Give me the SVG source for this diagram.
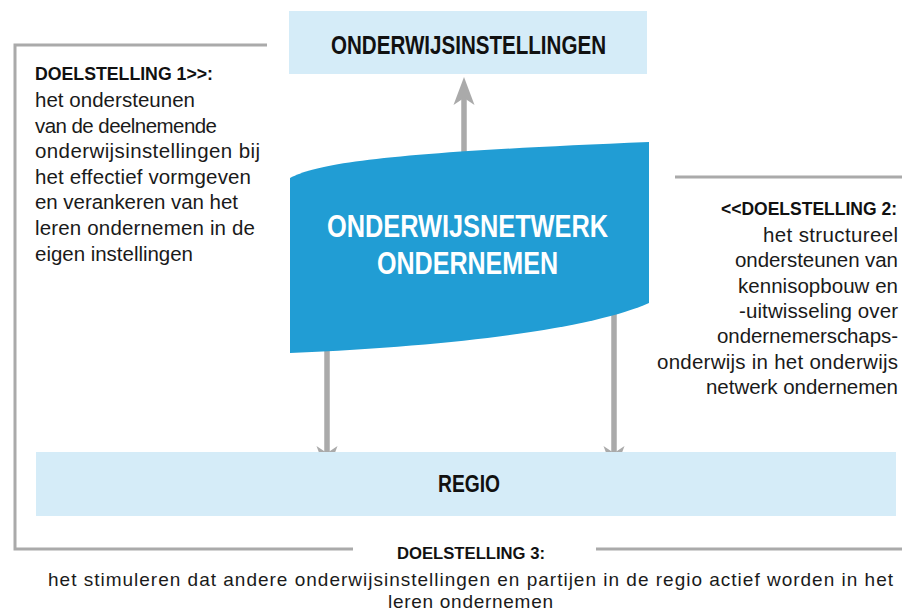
<svg xmlns="http://www.w3.org/2000/svg" width="902" height="612" viewBox="0 0 902 612">
<style>
.box{fill:#d5ecf8}
.line{fill:none;stroke:#aaaaaa;stroke-width:3}
.conn{fill:none;stroke:#aaaaaa;stroke-width:5.5}
.hd{font-family:"Liberation Sans",Arial,sans-serif;font-weight:bold;fill:#111111}
.wt{font-family:"Liberation Sans",Arial,sans-serif;font-weight:bold;fill:#ffffff}
.bd{font-family:"Liberation Sans",Arial,sans-serif;font-size:20.5px;fill:#1a1a1a}
</style>
<defs>
<marker id="ah" viewBox="-30 -12 32 24" refX="-21" refY="0" markerWidth="32" markerHeight="24" markerUnits="userSpaceOnUse" orient="auto">
<path d="M0,0 L-28,-10.5 L-21,0 L-28,10.5 Z" fill="#aaaaaa"/>
</marker>
</defs>
<rect width="902" height="612" fill="#ffffff"/>
<g id="frame">
<path class="line" d="M267,45 H15 V549 H353"/>
<path class="line" d="M596,549 H902"/>
<path class="line" d="M675,177 H902"/>
</g>
<g id="connectors">
<line class="conn" x1="464" y1="170" x2="464" y2="98" marker-end="url(#ah)"/>
<line class="conn" x1="327" y1="300" x2="327" y2="453" marker-end="url(#ah)"/>
<line class="conn" x1="614" y1="290" x2="614" y2="453" marker-end="url(#ah)"/>
</g>
<g id="onderwijsinstellingen">
<rect class="box" x="289" y="11" width="358" height="63"/>
<text class="hd" x="468.5" y="54" font-size="26" text-anchor="middle" textLength="275" lengthAdjust="spacingAndGlyphs">ONDERWIJSINSTELLINGEN</text>
</g>
<g id="onderwijsnetwerk">
<path d="M290,178 C320,162 400,152 649,142 L649,303 C600,325 480,345 290,353 Z" fill="#219dd4"/>
<text class="wt" x="467.5" y="237" font-size="32" text-anchor="middle" textLength="281" lengthAdjust="spacingAndGlyphs">ONDERWIJSNETWERK</text>
<text class="wt" x="467.5" y="274" font-size="32" text-anchor="middle" textLength="181" lengthAdjust="spacingAndGlyphs">ONDERNEMEN</text>
</g>
<g id="regio">
<rect class="box" x="36" y="452" width="860" height="64"/>
<text class="hd" x="469" y="492" font-size="24" text-anchor="middle" textLength="62" lengthAdjust="spacingAndGlyphs">REGIO</text>
</g>
<g id="doelstelling1">
<text class="hd" x="35" y="80" font-size="18" textLength="178" lengthAdjust="spacingAndGlyphs">DOELSTELLING 1&gt;&gt;:</text>
<text class="bd" x="35" y="107" textLength="160">het ondersteunen</text>
<text class="bd" x="35" y="132.6" textLength="182">van de deelnemende</text>
<text class="bd" x="35" y="158.2" textLength="225">onderwijsinstellingen bij</text>
<text class="bd" x="35" y="183.8" textLength="216">het effectief vormgeven</text>
<text class="bd" x="35" y="209.4" textLength="203">en verankeren van het</text>
<text class="bd" x="35" y="235" textLength="220">leren ondernemen in de</text>
<text class="bd" x="35" y="260.6" textLength="158">eigen instellingen</text>
</g>
<g id="doelstelling2">
<text class="hd" x="897" y="215" font-size="17.5" text-anchor="end">&lt;&lt;DOELSTELLING 2:</text>
<text class="bd" x="898" y="242" text-anchor="end" textLength="135">het structureel</text>
<text class="bd" x="898" y="267.3" text-anchor="end" textLength="163">ondersteunen van</text>
<text class="bd" x="898" y="292.6" text-anchor="end" textLength="160">kennisopbouw en</text>
<text class="bd" x="898" y="317.9" text-anchor="end" textLength="159">-uitwisseling over</text>
<text class="bd" x="898" y="343.2" text-anchor="end" textLength="181">ondernemerschaps-</text>
<text class="bd" x="898" y="368.5" text-anchor="end" textLength="241">onderwijs in het onderwijs</text>
<text class="bd" x="898" y="393.8" text-anchor="end" textLength="192">netwerk ondernemen</text>
</g>
<g id="doelstelling3">
<text class="hd" x="471" y="559" font-size="17" text-anchor="middle" textLength="148" lengthAdjust="spacingAndGlyphs">DOELSTELLING 3:</text>
<text class="bd" x="470.5" y="586" font-size="19" style="font-size:19px" text-anchor="middle" textLength="845">het stimuleren dat andere onderwijsinstellingen en partijen in de regio actief worden in het</text>
<text class="bd" x="470.5" y="607.5" style="font-size:19px" text-anchor="middle" textLength="165">leren ondernemen</text>
</g>
</svg>
